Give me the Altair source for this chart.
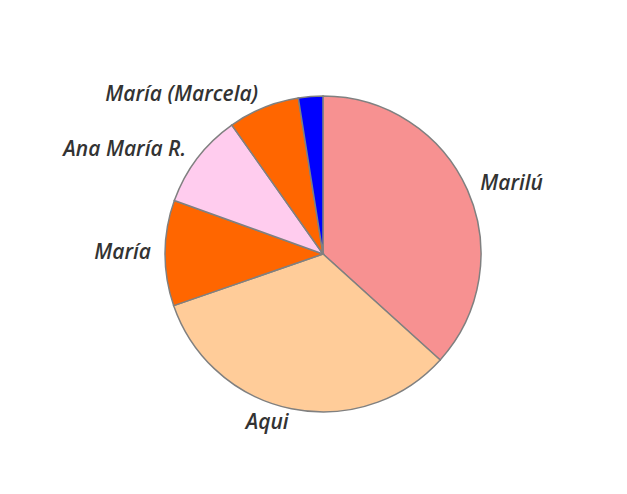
import math
import altair as alt
import pandas as pd

names = ["Marilú", "Aqui", "María", "Ana María R.", "María (Marcela)", "(sin etiqueta)"]
labels = ["Marilú", "Aqui", "María", "Ana María R.", "María (Marcela)", ""]
values = [36.7, 33.0, 10.8, 9.7, 7.3, 2.5]
colors = ["#f79191", "#ffcc99", "#ff6600", "#ffccee", "#ff6600", "#0000ff"]

df = pd.DataFrame({
    "name": names,
    "label": labels,
    "value": values,
    "order": list(range(len(names))),
})

CX, CY = 315, 246
theta_scale = alt.Scale(domain=[0, 1], range=[0, 2 * math.pi])

base = alt.Chart(df).transform_joinaggregate(
    total="sum(value)"
).transform_window(
    cum="sum(value)", sort=[alt.SortField("order")], frame=[None, 0]
).transform_calculate(
    end="datum.cum / datum.total",
    start="(datum.cum - datum.value) / datum.total",
    mid="(datum.cum - datum.value / 2) / datum.total",
)

arcs = base.mark_arc(radius=158, stroke="#808080", strokeWidth=1.5).encode(
    theta=alt.Theta("start:Q", scale=theta_scale),
    theta2="end:Q",
    color=alt.Color("name:N", scale=alt.Scale(domain=names, range=colors), legend=None),
    x=alt.value(CX),
    y=alt.value(CY),
)

text_style = dict(radius=172, fontSize=21, fontWeight=600, fontStyle="italic",
                  font="Open Sans", color="#333333", baseline="middle")

right_labels = base.transform_filter("datum.mid <= 0.5 && datum.label != ''").mark_text(
    align="left", **text_style
).encode(
    theta=alt.Theta("mid:Q", scale=theta_scale),
    text="label:N",
    x=alt.value(CX),
    y=alt.value(CY),
)

left_labels = base.transform_filter("datum.mid > 0.5 && datum.label != ''").mark_text(
    align="right", **text_style
).encode(
    theta=alt.Theta("mid:Q", scale=theta_scale),
    text="label:N",
    x=alt.value(CX),
    y=alt.value(CY),
)

chart = alt.layer(arcs, right_labels, left_labels).properties(
    width=611, height=478, padding=0, background="white"
).configure_view(stroke=None)

chart.save("out.html", embed_options={"renderer": "svg", "actions": False})
